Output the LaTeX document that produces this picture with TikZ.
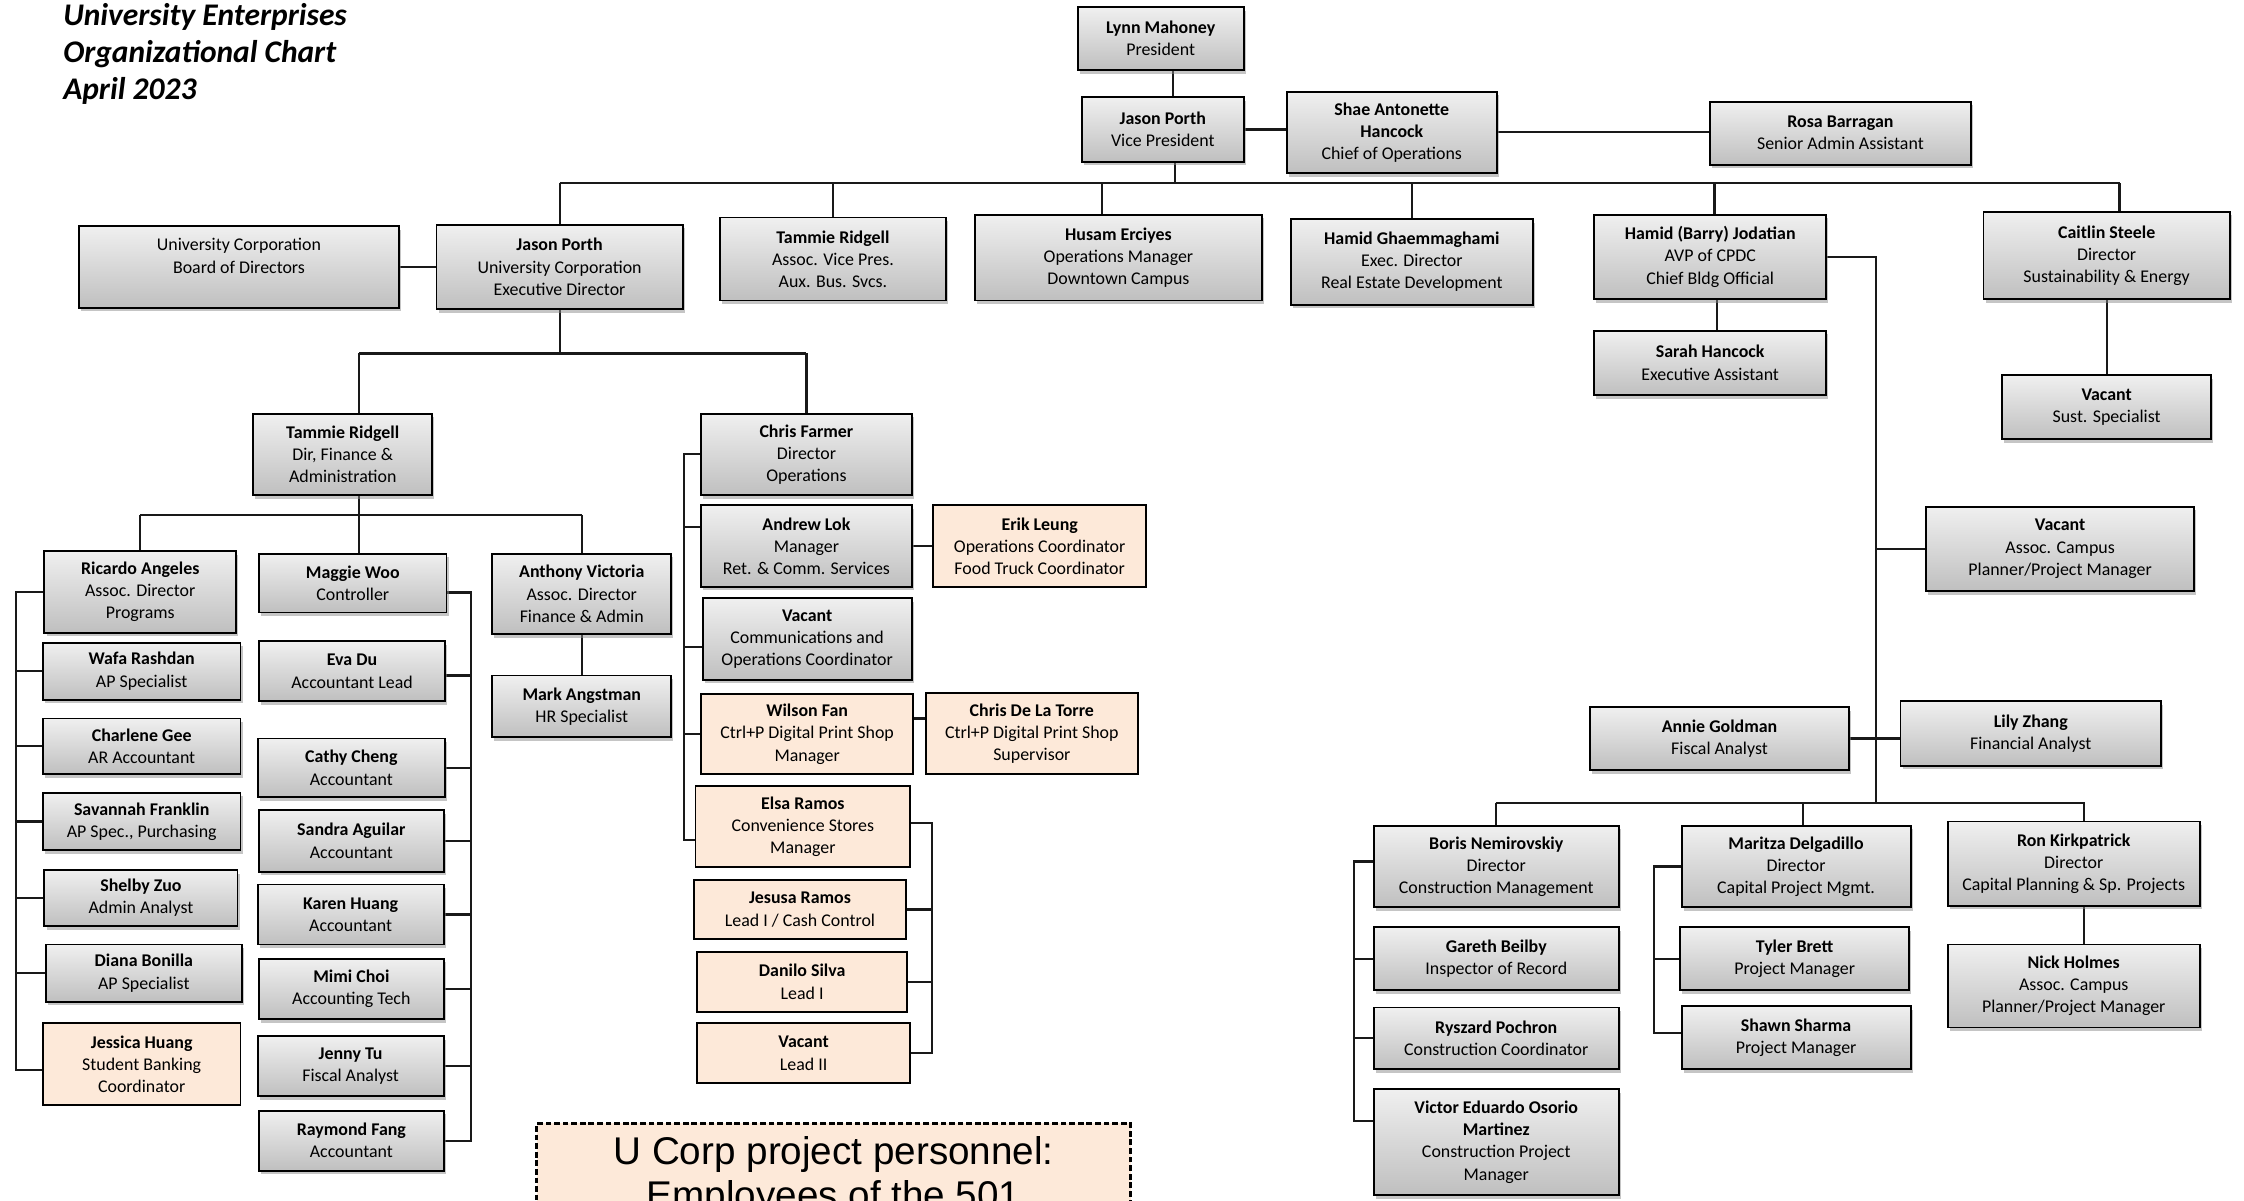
\documentclass[tikz,border=0pt]{standalone}
\usepackage{fontspec}
\setmainfont{Carlito}
\newfontfamily\arialf{Liberation Sans}
\usetikzlibrary{shadows}
\pgfdeclarelayer{background}
\pgfsetlayers{background,main}
\definecolor{peach}{HTML}{FDE9D9}
\newcommand\nm[1]{\textbf{#1}}
\newcommand\obox[7]{\node[#1, minimum width={#5pt-#3pt}, minimum height={#6pt-#4pt}] (#2) at ({(#3+#5)/2},{(#4+#6)/2}) {#7};}
\begin{document}
\begin{tikzpicture}[x=1pt,y=-1pt,
  basebox/.style={draw=black, line width=1.3pt, inner sep=1pt, outer sep=0pt, align=center,
     font=\fontsize{12.5}{15.5}\selectfont, text=black},
  gbox/.style={basebox, top color=black!6, bottom color=black!25,
     drop shadow={shadow xshift=1.5pt, shadow yshift=-2.5pt, fill=black!45, opacity=0.5}},
  pbox/.style={basebox, fill=peach},
  conn/.style={line width=1.5pt, draw=black!90},
  ubox/.style={draw=black, line width=2pt, dash pattern=on 4pt off 2pt, fill=peach,
     inner ysep=9pt, align=center, font=\arialf\fontsize{27}{31}\selectfont}]
\useasboundingbox (0,0) rectangle (1568,839);
\clip (0,0) rectangle (1568,839);

% title
\node[anchor=north west, inner sep=0pt, align=left,
  font=\fontsize{22}{26}\selectfont\bfseries\itshape] (title) at (44,2)
  {University Enterprises\\Organizational Chart\\April 2023};

% top
\obox{gbox}{lynn}{753}{5}{869}{49}{\nm{Lynn Mahoney}\\President}
\obox{gbox}{vp}{756}{68}{869}{113}{\nm{Jason Porth}\\Vice President}
\obox{gbox}{shae}{899}{64}{1046}{121}{\nm{Shae Antonette}\\\nm{Hancock}\\Chief of Operations}
\obox{gbox}{rosa}{1195}{71}{1377}{115}{\nm{Rosa Barragan}\\Senior Admin Assistant}

% row 2
\obox{gbox}{board}{55}{158}{279}{215}{University Corporation\\Board of Directors\\\phantom{X}}
\obox{gbox}{jpe}{305}{157}{477}{216}{\nm{Jason Porth}\\University Corporation\\Executive Director}
\obox{gbox}{tam1}{503}{152}{661}{210}{\nm{Tammie Ridgell}\\Assoc. Vice Pres.\\Aux. Bus. Svcs.}
\obox{gbox}{hus}{681}{150}{882}{210}{\nm{Husam Erciyes}\\Operations Manager\\Downtown Campus}
\obox{gbox}{hamg}{902}{153}{1071}{213}{\nm{Hamid Ghaemmaghami}\\Exec. Director\\Real Estate Development}
\obox{gbox}{hamj}{1114}{150}{1276}{209}{\nm{Hamid (Barry) Jodatian}\\AVP of CPDC\\Chief Bldg Official}
\obox{gbox}{cait}{1386}{148}{1558}{209}{\nm{Caitlin Steele}\\Director\\Sustainability \& Energy}

% right side
\obox{gbox}{sarah}{1114}{231}{1276}{276}{\nm{Sarah Hancock}\\Executive Assistant}
\obox{gbox}{vsust}{1399}{262}{1545}{307}{\nm{Vacant}\\Sust. Specialist}
\obox{gbox}{vacp}{1346}{354}{1533}{413}{\nm{Vacant}\\Assoc. Campus\\Planner/Project Manager}
\obox{gbox}{annie}{1111}{494}{1292}{538}{\nm{Annie Goldman}\\Fiscal Analyst}
\obox{gbox}{lily}{1328}{490}{1510}{535}{\nm{Lily Zhang}\\Financial Analyst}
\obox{gbox}{boris}{960}{577}{1131}{634}{\nm{Boris Nemirovskiy}\\Director\\Construction Management}
\obox{gbox}{gareth}{960}{648}{1131}{692}{\nm{Gareth Beilby}\\Inspector of Record}
\obox{gbox}{rysz}{960}{704}{1131}{747}{\nm{Ryszard Pochron}\\Construction Coordinator}
\obox{gbox}{victor}{960}{761}{1131}{835}{\nm{Victor Eduardo Osorio}\\\nm{Martinez}\\Construction Project\\Manager}
\obox{gbox}{marit}{1175}{577}{1335}{634}{\nm{Maritza Delgadillo}\\Director\\Capital Project Mgmt.}
\obox{gbox}{tyler}{1174}{648}{1334}{692}{\nm{Tyler Brett}\\Project Manager}
\obox{gbox}{shawn}{1175}{703}{1335}{747}{\nm{Shawn Sharma}\\Project Manager}
\obox{gbox}{ron}{1361}{574}{1537}{633}{\nm{Ron Kirkpatrick}\\Director\\Capital Planning \& Sp. Projects}
\obox{gbox}{nick}{1361}{660}{1537}{718}{\nm{Nick Holmes}\\Assoc. Campus\\Planner/Project Manager}

% left side
\obox{gbox}{tam2}{177}{289}{302}{346}{\nm{Tammie Ridgell}\\Dir, Finance \&\\Administration}
\obox{gbox}{chris}{490}{289}{637}{346}{\nm{Chris Farmer}\\Director\\Operations}
\obox{gbox}{ric}{31}{385}{165}{442}{\nm{Ricardo Angeles}\\Assoc. Director\\Programs}
\obox{gbox}{wafa}{30}{449}{168}{489}{\nm{Wafa Rashdan}\\AP Specialist}
\obox{gbox}{charl}{30}{502}{168}{541}{\nm{Charlene Gee}\\AR Accountant}
\obox{gbox}{sav}{30}{554}{168}{594}{\nm{Savannah Franklin}\\AP Spec., Purchasing}
\obox{gbox}{shelby}{31}{608}{166}{647}{\nm{Shelby Zuo}\\Admin Analyst}
\obox{gbox}{diana}{32}{660}{169}{700}{\nm{Diana Bonilla}\\AP Specialist}
\obox{pbox}{jess}{30}{715}{168}{772}{\nm{Jessica Huang}\\Student Banking\\Coordinator}
\obox{gbox}{maggie}{181}{387}{312}{428}{\nm{Maggie Woo}\\Controller}
\obox{gbox}{eva}{181}{448}{311}{490}{\nm{Eva Du}\\Accountant Lead}
\obox{gbox}{cathy}{180}{516}{311}{557}{\nm{Cathy Cheng}\\Accountant}
\obox{gbox}{sandra}{181}{566}{310}{609}{\nm{Sandra Aguilar}\\Accountant}
\obox{gbox}{karen}{180}{618}{310}{660}{\nm{Karen Huang}\\Accountant}
\obox{gbox}{mimi}{181}{670}{310}{712}{\nm{Mimi Choi}\\Accounting Tech}
\obox{gbox}{jenny}{180}{724}{310}{766}{\nm{Jenny Tu}\\Fiscal Analyst}
\obox{gbox}{ray}{181}{776}{310}{818}{\nm{Raymond Fang}\\Accountant}
\obox{gbox}{anth}{344}{387}{469}{443}{\nm{Anthony Victoria}\\Assoc. Director\\Finance \& Admin}
\obox{gbox}{mark}{344}{472}{469}{515}{\nm{Mark Angstman}\\HR Specialist}
\obox{gbox}{andrew}{490}{353}{637}{410}{\nm{Andrew Lok}\\Manager\\Ret. \& Comm. Services}
\obox{pbox}{erik}{652}{353}{801}{410}{\nm{Erik Leung}\\Operations Coordinator\\Food Truck Coordinator}
\obox{gbox}{vcomm}{491}{418}{637}{475}{\nm{Vacant}\\Communications and\\Operations Coordinator}
\obox{pbox}{wilson}{490}{485}{638}{541}{\nm{Wilson Fan}\\Ctrl+P Digital Print Shop\\Manager}
\obox{pbox}{cdlt}{647}{484}{795}{541}{\nm{Chris De La Torre}\\Ctrl+P Digital Print Shop\\Supervisor}
\obox{pbox}{elsa}{486}{549}{636}{606}{\nm{Elsa Ramos}\\Convenience Stores\\Manager}
\obox{pbox}{jesusa}{485}{615}{633}{656}{\nm{Jesusa Ramos}\\Lead I / Cash Control}
\obox{pbox}{danilo}{487}{665}{634}{707}{\nm{Danilo Silva}\\Lead I}
\obox{pbox}{vlead}{487}{715}{636}{757}{\nm{Vacant}\\Lead II}

% dashed note
\node[ubox, minimum width=415pt, anchor=north] (ucorp) at (582.5,784)
  {U Corp project personnel:\\Employees of the 501};

% connectors
\begin{pgfonlayer}{background}
\fill[white] (0,0) rectangle (1568,839);
\coordinate (b1L) at (391,128); \coordinate (b1R) at (1481,128);
\draw[conn] (b1L) -- (b1R);
\draw[conn] ([xshift=8.5pt]lynn.south) -- ([xshift=8.5pt]lynn.south |- vp.north);
\draw[conn] ([xshift=8.5pt]vp.south) -- ([xshift=8.5pt]vp.south |- b1L);
\draw[conn] (vp.east) -- (vp.east -| shae.west);
\draw[conn] (shae.east) -- (shae.east -| rosa.west);
\draw[conn] (jpe.north) -- (jpe.north |- b1L);
\draw[conn] (tam1.north) -- (tam1.north |- b1L);
\draw[conn] ([xshift=-11.5pt]hus.north) -- ([xshift=-11.5pt]hus.north |- b1L);
\draw[conn] (hamg.north) -- (hamg.north |- b1L);
\draw[conn] ([xshift=3pt]hamj.north) -- ([xshift=3pt]hamj.north |- b1L);
\draw[conn] ([xshift=9pt]cait.north) -- ([xshift=9pt]cait.north |- b1L);
\draw[conn] (board.east) -- (board.east -| jpe.west);
\draw[conn] ([xshift=5pt]hamj.south) -- ([xshift=5pt]hamj.south |- sarah.north);
\draw[conn] (cait.south) -- (cait.south |- vsust.north);

% CPDC
\coordinate (rb) at (1311,561);
\draw[conn] (hamj.east) -| (rb);
\draw[conn] (vacp.west) -- (vacp.west -| rb);
\draw[conn] (annie.east) -- (annie.east -| lily.west);
\coordinate (b4L) at (1045,561); \coordinate (b4R) at (1457,561);
\draw[conn] (b4L) -- (b4R);
\draw[conn] (boris.north) -- (boris.north |- b4L);
\draw[conn] ([xshift=5pt]marit.north) -- ([xshift=5pt]marit.north |- b4L);
\draw[conn] ([xshift=7pt]ron.north) -- ([xshift=7pt]ron.north |- b4L);
\draw[conn] ([xshift=7pt]ron.south) -- ([xshift=7pt]ron.south |- nick.north);
\coordinate (bb) at (946,600);
\draw[conn] ([yshift=3.5pt]boris.west) -- ([yshift=3.5pt]boris.west -| bb)
   -- ([yshift=15pt]victor.west -| bb) -- ([yshift=15pt]victor.west);
\foreach \n in {gareth,rysz} \draw[conn] (\n.west) -- (\n.west -| bb);
\coordinate (mb) at (1156,600);
\draw[conn] (marit.west) -- (marit.west -| mb) -- ([yshift=3pt]shawn.west -| mb) -- ([yshift=3pt]shawn.west);
\draw[conn] (tyler.west) -- (tyler.west -| mb);

% left side
\coordinate (b2L) at (251,247); \coordinate (b2R) at (563.5,247);
\draw[conn] (jpe.south) -- (jpe.south |- b2L);
\draw[conn] (b2L) -- (b2R);
\draw[conn] (b2L) -- (b2L |- tam2.north);
\draw[conn] (chris.north) -- (chris.north |- b2L);
\coordinate (b3L) at (98,360); \coordinate (b3R) at (406.5,360);
\draw[conn] (tam2.south -| b2L) -- (b3L -| b2L) -- (maggie.north -| b2L);
\draw[conn] (b3L) -- (b3R);
\draw[conn] (ric.north) -- (ric.north |- b3L);
\draw[conn] (anth.north) -- (anth.north |- b3L);
\draw[conn] (anth.south) -- (anth.south |- mark.north);

\coordinate (rbar) at (11,400);
\draw[conn] (ric.west) -- (ric.west -| rbar) -- ([yshift=-4pt]jess.west -| rbar) -- ([yshift=-4pt]jess.west);
\foreach \n in {wafa,charl,sav,shelby,diana} \draw[conn] (\n.west) -- (\n.west -| rbar);

\coordinate (mgb) at (329,400);
\draw[conn] ([yshift=-6.5pt]maggie.east) -- ([yshift=-6.5pt]maggie.east -| mgb) -- (ray.east -| mgb) -- (ray.east);
\draw[conn] ([yshift=-3pt]eva.east) -- ([yshift=-3pt]eva.east -| mgb);
\foreach \n in {cathy,sandra,karen,mimi,jenny} \draw[conn] (\n.east) -- (\n.east -| mgb);

\coordinate (cb) at (478,300);
\draw[conn] (chris.west) -- (chris.west -| cb) -- ([yshift=-9.5pt]elsa.west -| cb) -- ([yshift=-9.5pt]elsa.west);
\draw[conn] ([yshift=13.5pt]andrew.west) -- ([yshift=13.5pt]andrew.west -| cb);
\draw[conn] ([yshift=-5.5pt]vcomm.west) -- ([yshift=-5.5pt]vcomm.west -| cb);
\draw[conn] (wilson.west) -- (wilson.west -| cb);
\draw[conn] (andrew.east) -- (andrew.east -| erik.west);
\draw[conn] ([yshift=11pt]wilson.east) -- ([yshift=11pt]wilson.east -| cdlt.west);

\coordinate (eb) at (651,600);
\draw[conn] ([yshift=2.5pt]elsa.east) -- ([yshift=2.5pt]elsa.east -| eb) -- (vlead.east -| eb) -- (vlead.east);
\foreach \n in {jesusa,danilo} \draw[conn] (\n.east) -- (\n.east -| eb);
\end{pgfonlayer}
\end{tikzpicture}
\end{document}
